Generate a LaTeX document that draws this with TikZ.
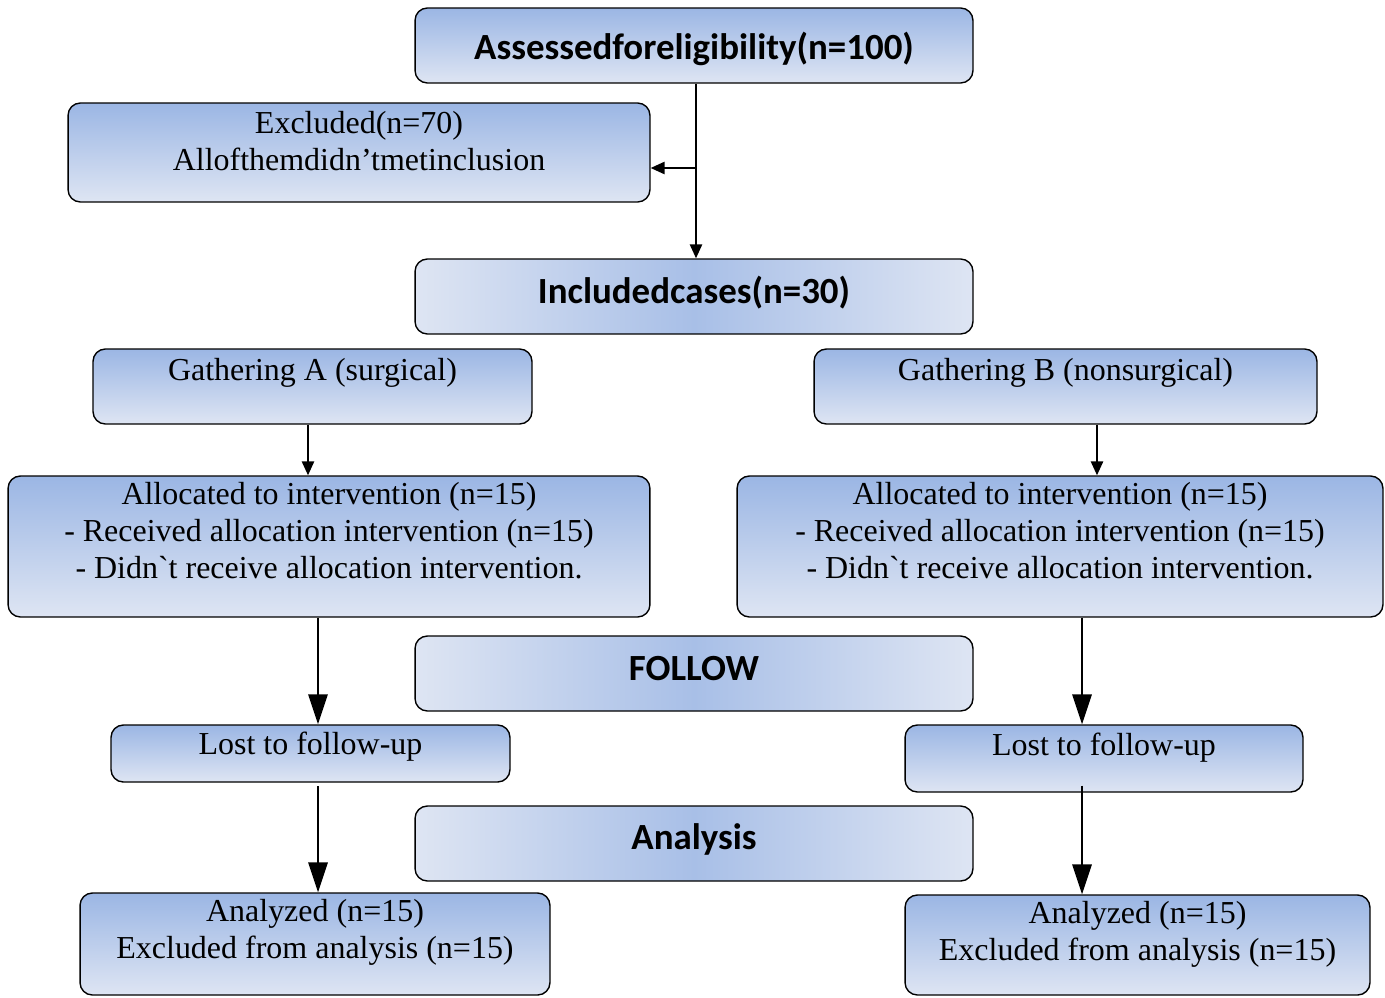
\documentclass[tikz,border=0pt]{standalone}
\usepackage{fontspec}
\setmainfont{Liberation Serif}
\newfontfamily\headfont{Carlito}
\usetikzlibrary{arrows.meta}
\definecolor{boxtop}{RGB}{155,182,228}
\definecolor{boxbot}{RGB}{222,229,243}
\definecolor{boxmid}{RGB}{168,191,231}

\begin{document}
\begin{tikzpicture}[x=0.02cm,y=-0.02cm,
    box/.style={draw,rounded corners=7pt,line width=0.8pt,top color=boxtop,bottom color=boxbot,inner sep=0pt},
    band/.style={draw,rounded corners=7pt,line width=0.8pt,left color=boxbot,right color=boxbot,middle color=boxmid,inner sep=0pt},
    head/.style={inner sep=0pt,font=\headfont\bfseries\fontsize{21}{24}\selectfont},
    txt/.style={anchor=north,align=center,inner sep=0pt,font=\fontsize{18.2}{21}\selectfont},
    link/.style={line width=1.1pt,-{Triangle[length=8pt,width=7pt]}},
    biglink/.style={line width=1.1pt,-{Triangle[length=17pt,width=11pt]}}]

    \useasboundingbox (0,0) rectangle (1385,997);
    \clip (0,0) rectangle (1385,997);

    % boxes
    \node[box,minimum width=11.16cm,minimum height=1.5cm] (assess) at (694,45.5) {};
    \node[box,minimum width=11.64cm,minimum height=1.98cm] (excl) at (359,152.5) {};
    \node[band,minimum width=11.16cm,minimum height=1.5cm] (incl) at (694,296.5) {};
    \node[box,minimum width=8.78cm,minimum height=1.5cm] (gathA) at (312.5,386.5) {};
    \node[box,minimum width=10.06cm,minimum height=1.5cm] (gathB) at (1065.5,386.5) {};
    \node[box,minimum width=12.84cm,minimum height=2.82cm] (allocA) at (329,546.5) {};
    \node[box,minimum width=12.92cm,minimum height=2.82cm] (allocB) at (1060,546.5) {};
    \node[band,minimum width=11.16cm,minimum height=1.5cm] (follow) at (694,673.5) {};
    \node[box,minimum width=7.98cm,minimum height=1.14cm] (lostA) at (310.5,753.5) {};
    \node[box,minimum width=7.96cm,minimum height=1.34cm] (lostB) at (1104,758.5) {};
    \node[band,minimum width=11.16cm,minimum height=1.5cm] (anal) at (694,843.5) {};
    \node[box,minimum width=9.4cm,minimum height=2.04cm] (anzA) at (315,944) {};
    \node[box,minimum width=9.3cm,minimum height=2.0cm] (anzB) at (1137.5,945) {};

    % texts
    \node[head] (assessT) at ([yshift=-1.7pt]assess.center) {Assessedforeligibility(n=100)};
    \node[head] (inclT) at ([yshift=2.3pt]incl.center) {Includedcases(n=30)};
    \node[head] (followT) at ([yshift=2.8pt]follow.center) {FOLLOW};
    \node[head] (analT) at ([yshift=2.3pt]anal.center) {Analysis};
    \node[txt] (exclT) at ([yshift=-5pt]excl.north) {Excluded(n=70)\\Allofthemdidn’tmetinclusion};
    \node[txt] (gathAT) at ([yshift=-5.5pt]gathA.north) {Gathering A (surgical)};
    \node[txt] (gathBT) at ([yshift=-5.5pt]gathB.north) {Gathering B (nonsurgical)};
    \node[txt] (allocAT) at ([yshift=-4pt]allocA.north) {Allocated to intervention (n=15)\\- Received allocation intervention (n=15)\\- Didn\textasciigrave t receive allocation intervention.};
    \node[txt] (allocBT) at ([yshift=-4pt]allocB.north) {Allocated to intervention (n=15)\\- Received allocation intervention (n=15)\\- Didn\textasciigrave t receive allocation intervention.};
    \node[txt] (lostAT) at ([yshift=-4pt]lostA.north) {Lost to follow-up};
    \node[txt] (lostBT) at ([yshift=-4.5pt]lostB.north) {Lost to follow-up};
    \node[txt] (anzAT) at ([yshift=-4pt]anzA.north) {Analyzed (n=15)\\Excluded from analysis (n=15)};
    \node[txt] (anzBT) at ([yshift=-4pt]anzB.north) {Analyzed (n=15)\\Excluded from analysis (n=15)};

    % connectors
    \coordinate (trunk) at (696,0);
    \coordinate (branch) at (696,168);
    \coordinate (colA) at (318,0);
    \coordinate (colB) at (1082,0);
    \draw[link] (assess.south -| trunk) -- (incl.north -| trunk);
    \draw[link] (branch) -- (branch -| excl.east);
    \draw[link] (gathA.south -| 308,0) -- (allocA.north -| 308,0);
    \draw[link] (gathB.south -| 1097,0) -- (allocB.north -| 1097,0);
    \draw[biglink] (allocA.south -| colA) -- (lostA.north -| colA);
    \draw[biglink] (allocB.south -| colB) -- (lostB.north -| colB);
    \draw[biglink] ([yshift=-2pt]lostA.south -| colA) -- (anzA.north -| colA);
    \draw[biglink] ([yshift=4pt]lostB.south -| colB) -- (anzB.north -| colB);
\end{tikzpicture}
\end{document}
